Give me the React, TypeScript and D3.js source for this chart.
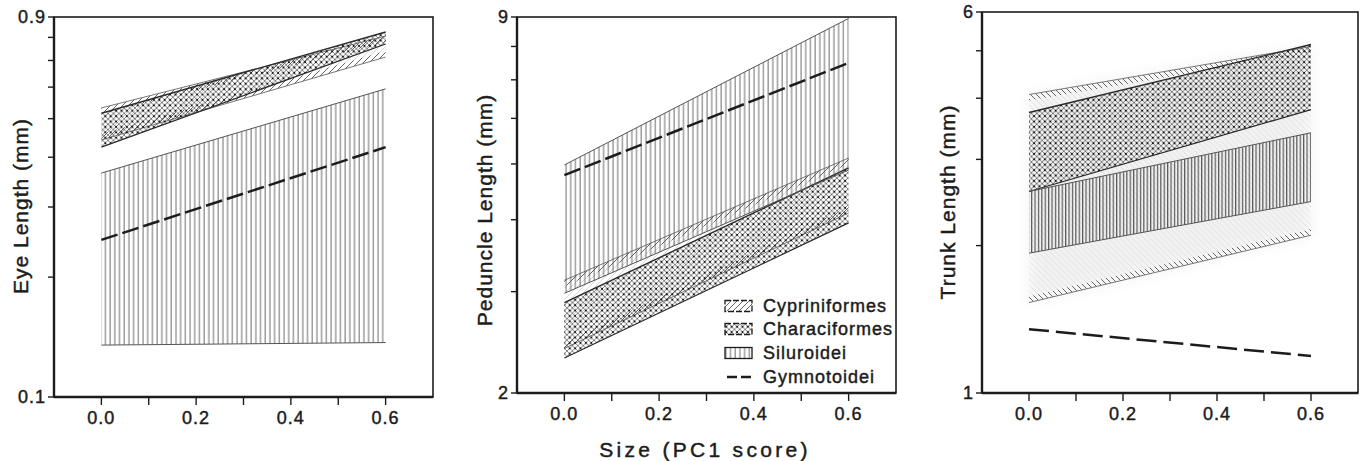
import React from "react";
import * as d3 from "d3";

// ---- shared x axis (size, PC1 score) ----
const SIZE = [0, 0.6];
const X_DOMAIN = [-0.1, 0.7];
const X_TICKS = [0, 0.1, 0.2, 0.3, 0.4, 0.5, 0.6];
const X_LABEL_VALUES = [0, 0.2, 0.4, 0.6];
const X_LABELS = ["0.0", "0.2", "0.4", "0.6"];

const GROUPS = ["Cypriniformes", "Characiformes", "Siluroidei", "Gymnotoidei"];

// ---- Eye length (mm) ----
const EYE_DOMAIN = [0.1, 0.9];
const EYE_TICKS = [0.1, 0.2, 0.3, 0.4, 0.5, 0.6, 0.7, 0.8, 0.9];
const EYE_TICK_LABELS = ["0.1", "0.9"];
const EYE_CYP_LO = [0.442, 0.714];
const EYE_CYP_HI = [0.532, 0.806];
const EYE_CHA_LO = [0.424, 0.77];
const EYE_CHA_HI = [0.516, 0.825];
const EYE_SIL_LO = [0.135, 0.137];
const EYE_SIL_HI = [0.365, 0.594];
const EYE_GYM = [0.248, 0.424];

// ---- Peduncle length (mm) ----
const PED_DOMAIN = [2, 9];
const PED_TICKS = [2, 3, 4, 5, 6, 7, 8, 9];
const PED_TICK_LABELS = ["2", "9"];
const PED_CYP_LO = [2.39, 4.11];
const PED_CYP_HI = [3.14, 5.12];
const PED_CHA_LO = [2.3, 3.95];
const PED_CHA_HI = [2.87, 4.92];
const PED_SIL_LO = [2.98, 4.88];
const PED_SIL_HI = [4.98, 8.95];
const PED_GYM = [4.78, 7.49];

// ---- Trunk length (mm) ----
const TRU_DOMAIN = [1, 6];
const TRU_TICKS = [1, 2, 3, 4, 5, 6];
const TRU_TICK_LABELS = ["1", "6"];
const TRU_CYP_LO = [1.53, 2.1];
const TRU_CYP_HI = [4.07, 5.1];
const TRU_CHA_LO = [2.58, 3.79];
const TRU_CHA_HI = [3.74, 5.15];
const TRU_SIL_LO = [1.93, 2.46];
const TRU_SIL_HI = [2.58, 3.4];
const TRU_GYM = [1.35, 1.19];

const INK = "#1c1c1c";
const FONT = "'Liberation Sans', Arial, Helvetica, sans-serif";
const TEXT_STROKE = 0.45;

type Band = { lo: number[]; hi: number[] };

type PanelProps = {
  id: string;
  left: number;
  right: number;
  top: number;
  bottom: number;
  domain: number[];
  ticks: number[];
  tickLabels: string[];
  title: string;
  titleX: number;
  titleY: number;
  cyp: Band;
  cha: Band;
  sil: Band;
  gym: number[];
  gymDash: string;
  cypFill: string;
  cypEdge: string;
  silFill: string;
  haze?: boolean;
};

function Panel(p: PanelProps) {
  const x = d3.scaleLinear().domain(X_DOMAIN).range([p.left, p.right]);
  const y = d3.scaleLog().domain(p.domain).range([p.bottom, p.top]);

  const band = (b: Band) =>
    d3
      .area<number>()
      .x((d) => x(d))
      .y0((_, i) => y(b.lo[i]))
      .y1((_, i) => y(b.hi[i]))(SIZE) as string;

  const edge = (vals: number[]) =>
    d3
      .line<number>()
      .x((d) => x(d))
      .y((_, i) => y(vals[i]))(SIZE) as string;

  // thin strip just inside a band edge, where the hatching reads darkest
  const strip = (vals: number[], offset: number) =>
    d3
      .area<number>()
      .x((d) => x(d))
      .y0((_, i) => y(vals[i]))
      .y1((_, i) => y(vals[i]) + offset)(SIZE) as string;

  const clipId = `clip-${p.id}`;
  const textProps = {
    fontFamily: FONT,
    fill: INK,
    stroke: INK,
    strokeWidth: TEXT_STROKE,
  };

  return (
    <g>
      <defs>
        <clipPath id={clipId}>
          <rect x={p.left} y={p.top} width={p.right - p.left} height={p.bottom - p.top} />
        </clipPath>
        <filter id={`haze-${p.id}`} x="-20%" y="-20%" width="140%" height="140%">
          <feGaussianBlur stdDeviation="7" />
        </filter>
      </defs>

      <g clipPath={`url(#${clipId})`}>
        {/* Cypriniformes */}
        {p.haze && (
          <path d={band(p.cyp)} fill="#ececec" opacity={0.7} filter={`url(#haze-${p.id})`} />
        )}
        <path d={band(p.cyp)} fill={`url(#${p.cypFill})`} />
        <path d={strip(p.cyp.hi, 6)} fill={`url(#${p.cypEdge})`} />
        <path d={strip(p.cyp.lo, -6)} fill={`url(#${p.cypEdge})`} />
        <path d={edge(p.cyp.hi)} fill="none" stroke="#777" strokeWidth={1} />
        <path d={edge(p.cyp.lo)} fill="none" stroke="#777" strokeWidth={1} />

        {/* Characiformes */}
        <path d={band(p.cha)} fill="url(#pat-cha)" />
        <path d={edge(p.cha.hi)} fill="none" stroke="#2a2a2a" strokeWidth={1.4} />
        <path d={edge(p.cha.lo)} fill="none" stroke="#2a2a2a" strokeWidth={1.2} />

        {/* Siluroidei */}
        <path d={band(p.sil)} fill={`url(#${p.silFill})`} />
        <path d={edge(p.sil.hi)} fill="none" stroke="#555" strokeWidth={1} />
        <path d={edge(p.sil.lo)} fill="none" stroke="#555" strokeWidth={1} />

        {/* Gymnotoidei */}
        <path
          d={edge(p.gym)}
          fill="none"
          stroke={INK}
          strokeWidth={2.5}
          strokeDasharray={p.gymDash}
        />
      </g>

      {/* frame */}
      <rect
        x={p.left}
        y={p.top}
        width={p.right - p.left}
        height={p.bottom - p.top}
        fill="none"
        stroke={INK}
        strokeWidth={1.6}
      />
      <line x1={p.left} x2={p.left} y1={p.top} y2={p.bottom} stroke={INK} strokeWidth={2.4} />
      <line x1={p.left} x2={p.right} y1={p.bottom} y2={p.bottom} stroke={INK} strokeWidth={2.4} />

      {/* y ticks */}
      {p.ticks.map((t) => (
        <line key={`yt${t}`} x1={p.left - 6} x2={p.left} y1={y(t)} y2={y(t)} stroke={INK} strokeWidth={1.4} />
      ))}
      {[p.domain[0], p.domain[1]].map((t, i) => (
        <text
          key={`yl${t}`}
          x={p.left - 8}
          y={y(t)}
          dy="0.35em"
          textAnchor="end"
          fontSize={18}
          letterSpacing={1}
          {...textProps}
        >
          {p.tickLabels[i]}
        </text>
      ))}

      {/* x ticks */}
      {X_TICKS.map((t) => (
        <line key={`xt${t}`} x1={x(t)} x2={x(t)} y1={p.bottom} y2={p.bottom + 8} stroke={INK} strokeWidth={1.4} />
      ))}
      {X_LABEL_VALUES.map((t, i) => (
        <text
          key={`xl${t}`}
          x={x(t)}
          y={p.bottom + 21}
          dy="0.35em"
          textAnchor="middle"
          fontSize={18}
          letterSpacing={1}
          {...textProps}
        >
          {X_LABELS[i]}
        </text>
      ))}

      {/* y title */}
      <text
        transform={`translate(${p.titleX},${p.titleY}) rotate(-90)`}
        textAnchor="middle"
        dy="0.35em"
        fontSize={21}
        letterSpacing={1}
        {...textProps}
      >
        {p.title}
      </text>
    </g>
  );
}

function Legend({ x0, rows }: { x0: number; rows: number[] }) {
  const sw = 27;
  const sh = 11;
  const fills = ["url(#pat-cyp-dark)", "url(#pat-cha)", "url(#pat-sil)"];
  return (
    <g>
      {GROUPS.map((g, i) => (
        <g key={g}>
          {i < 3 ? (
            <rect
              x={x0}
              y={rows[i] - sh / 2}
              width={sw}
              height={sh}
              fill={fills[i]}
              stroke={INK}
              strokeWidth={1.3}
              strokeDasharray={i < 2 ? "6,2" : undefined}
            />
          ) : (
            <line
              x1={x0 + 2}
              x2={x0 + sw}
              y1={rows[i]}
              y2={rows[i]}
              stroke={INK}
              strokeWidth={2.6}
              strokeDasharray="10,4"
            />
          )}
          <text
            x={x0 + sw + 11}
            y={rows[i]}
            dy="0.35em"
            fontFamily={FONT}
            fontSize={18}
            letterSpacing={1}
            fill={INK}
            stroke={INK}
            strokeWidth={TEXT_STROKE}
          >
            {g}
          </text>
        </g>
      ))}
    </g>
  );
}

export default function App() {
  return (
    <svg
      width={1365}
      height={461}
      viewBox="0 0 1365 461"
      style={{ position: "absolute", left: 0, top: 0, background: "#fff" }}
    >
      <defs>
        <pattern id="pat-cyp" patternUnits="userSpaceOnUse" width={6} height={6}>
          <path d="M-1,7L7,-1M-1,1L1,-1M5,7L7,5" stroke="#cfcfcf" strokeWidth={0.8} />
        </pattern>
        <pattern id="pat-cyp-dark" patternUnits="userSpaceOnUse" width={6} height={6}>
          <path d="M-1,7L7,-1M-1,1L1,-1M5,7L7,5" stroke="#555" strokeWidth={0.9} />
        </pattern>
        <pattern id="pat-cyp-back" patternUnits="userSpaceOnUse" width={6} height={6}>
          <path d="M-1,-1L7,7M-1,5L1,7M5,-1L7,1" stroke="#dcdcdc" strokeWidth={0.7} />
        </pattern>
        <pattern id="pat-cyp-back-dark" patternUnits="userSpaceOnUse" width={6} height={6}>
          <path d="M-1,-1L7,7M-1,5L1,7M5,-1L7,1" stroke="#555" strokeWidth={0.9} />
        </pattern>
        <pattern id="pat-cha" patternUnits="userSpaceOnUse" width={5.4} height={5.4}>
          <path d="M0,0L5.4,5.4M5.4,0L0,5.4" stroke="#555" strokeWidth={0.7} />
          <circle cx={2.7} cy={2.7} r={1.1} fill="#151515" />
        </pattern>
        <pattern id="pat-sil" patternUnits="userSpaceOnUse" width={4.7} height={10}>
          <line x1={2} x2={2} y1={0} y2={10} stroke="#555" strokeWidth={0.9} />
        </pattern>
        <pattern id="pat-sil-dense" patternUnits="userSpaceOnUse" width={3.4} height={10}>
          <line x1={1.5} x2={1.5} y1={0} y2={10} stroke="#3a3a3a" strokeWidth={1} />
        </pattern>
      </defs>

      <Panel
        id="eye"
        left={54}
        right={433}
        top={17}
        bottom={397}
        domain={EYE_DOMAIN}
        ticks={EYE_TICKS}
        tickLabels={EYE_TICK_LABELS}
        title="Eye Length (mm)"
        titleX={21}
        titleY={206}
        cyp={{ lo: EYE_CYP_LO, hi: EYE_CYP_HI }}
        cha={{ lo: EYE_CHA_LO, hi: EYE_CHA_HI }}
        sil={{ lo: EYE_SIL_LO, hi: EYE_SIL_HI }}
        gym={EYE_GYM}
        gymDash="17,5"
        cypFill="pat-cyp"
        cypEdge="pat-cyp-dark"
        silFill="pat-sil"
      />
      <Panel
        id="ped"
        left={517}
        right={896}
        top={17}
        bottom={393}
        domain={PED_DOMAIN}
        ticks={PED_TICKS}
        tickLabels={PED_TICK_LABELS}
        title="Peduncle Length (mm)"
        titleX={485}
        titleY={210}
        cyp={{ lo: PED_CYP_LO, hi: PED_CYP_HI }}
        cha={{ lo: PED_CHA_LO, hi: PED_CHA_HI }}
        sil={{ lo: PED_SIL_LO, hi: PED_SIL_HI }}
        gym={PED_GYM}
        gymDash="17,5"
        cypFill="pat-cyp"
        cypEdge="pat-cyp-dark"
        silFill="pat-sil"
      />
      <Panel
        id="tru"
        left={982}
        right={1358}
        top={12}
        bottom={393}
        domain={TRU_DOMAIN}
        ticks={TRU_TICKS}
        tickLabels={TRU_TICK_LABELS}
        title="Trunk Length (mm)"
        titleX={948}
        titleY={202}
        cyp={{ lo: TRU_CYP_LO, hi: TRU_CYP_HI }}
        cha={{ lo: TRU_CHA_LO, hi: TRU_CHA_HI }}
        sil={{ lo: TRU_SIL_LO, hi: TRU_SIL_HI }}
        gym={TRU_GYM}
        gymDash="20,7"
        cypFill="pat-cyp-back"
        cypEdge="pat-cyp-back-dark"
        silFill="pat-sil-dense"
        haze
      />

      <Legend x0={725} rows={[306, 329, 353, 377]} />

      <text
        x={705}
        y={450}
        dy="0.35em"
        textAnchor="middle"
        fontFamily={FONT}
        fontSize={21}
        letterSpacing={3.3}
        fill={INK}
        stroke={INK}
        strokeWidth={TEXT_STROKE}
      >
        Size (PC1 score)
      </text>
    </svg>
  );
}
